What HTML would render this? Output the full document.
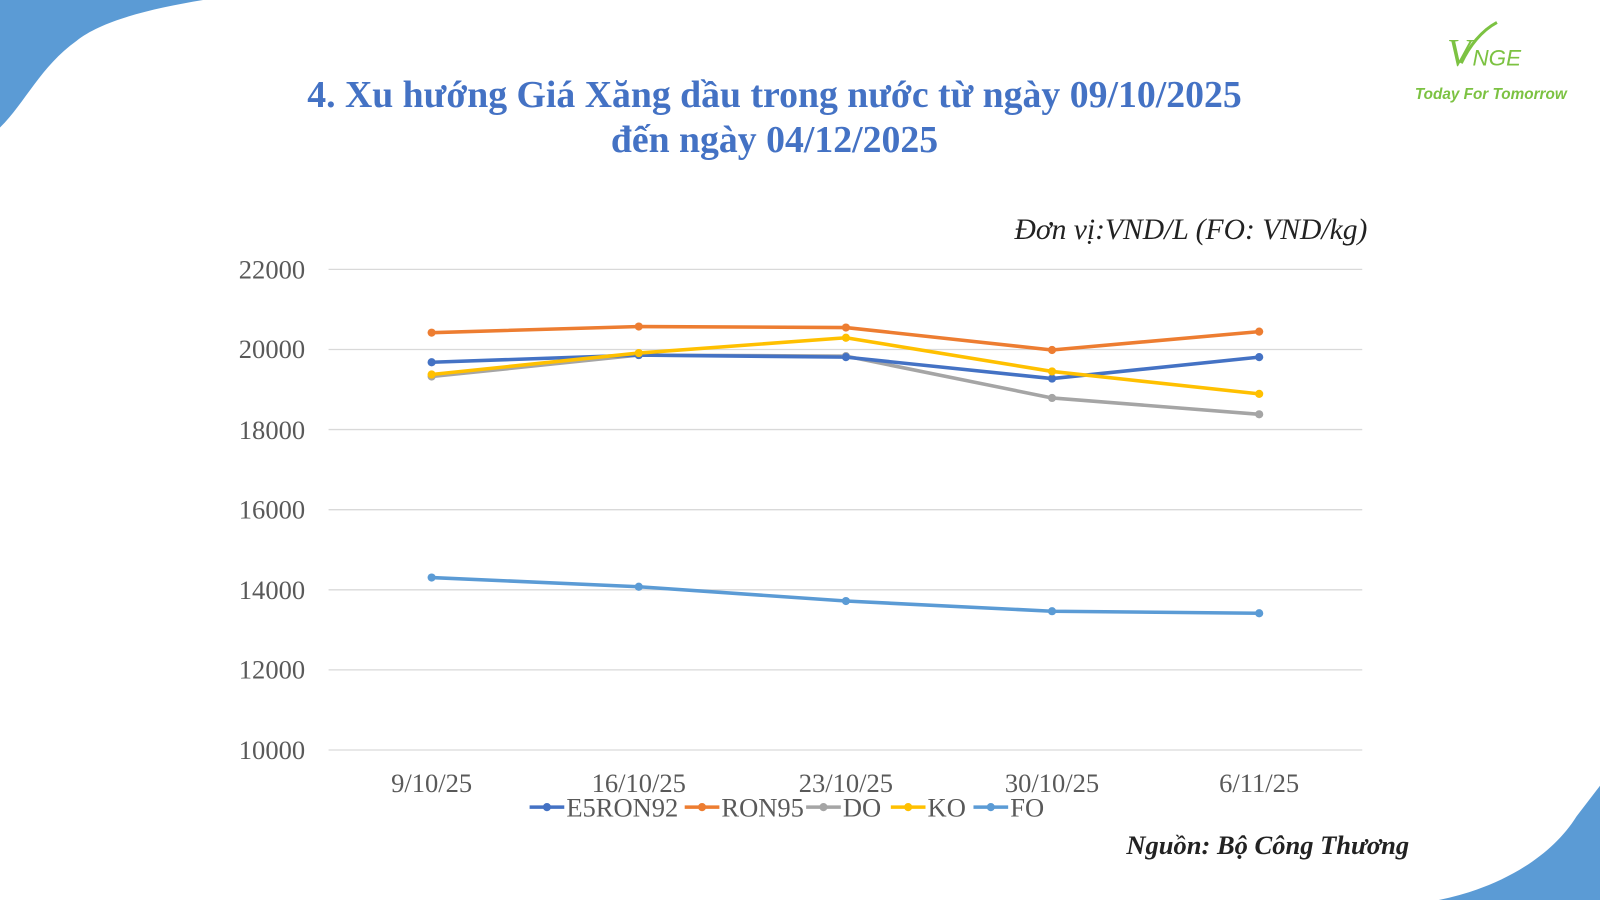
<!DOCTYPE html>
<html><head><meta charset="utf-8"><style>html,body{margin:0;padding:0;background:#fff;width:1600px;height:900px;overflow:hidden}</style></head>
<body>
<svg width="1600" height="900" viewBox="0 0 1568 882" preserveAspectRatio="none" xmlns="http://www.w3.org/2000/svg">
<rect width="1568" height="882" fill="#fff"/>
<path d="M0,0 L199,0 C150,8 100,20 75,40 C40,65 25,100 0,125 Z" fill="#5B9BD5"/>
<path d="M1568,770 L1568,882 L1410,882 C1470,870 1520,840 1545,800 Z" fill="#5B9BD5"/>
<g font-family="'Liberation Serif',serif" font-weight="bold" fill="#4472C4" font-size="37" text-anchor="middle">
<text x="759" y="105">4. Xu hướng Giá Xăng dầu trong nước từ ngày 09/10/2025</text>
<text x="759" y="149">đến ngày 04/12/2025</text>
</g>
<g font-family="'Liberation Sans',sans-serif" font-style="italic" fill="#7CC242">
<text x="1418" y="64" font-size="38" font-family="'Liberation Serif',serif">V</text>
<text x="1443" y="64" font-size="22">NGE</text>
<text x="1461" y="97" font-size="15" font-weight="bold" text-anchor="middle">Today For Tomorrow</text>
</g>
<path d="M1432,62 C1440,45 1452,30 1467,22" stroke="#7CC242" stroke-width="3" fill="none"/>
<text x="1340" y="234" font-family="'Liberation Serif',serif" font-style="italic" font-size="29" fill="#222" text-anchor="end">Đơn vị:VND/L (FO: VND/kg)</text>
<g stroke="#d9d9d9" stroke-width="1.3">
<line x1="322" x2="1335" y1="264" y2="264"/><line x1="322" x2="1335" y1="342.5" y2="342.5"/><line x1="322" x2="1335" y1="421" y2="421"/><line x1="322" x2="1335" y1="499.5" y2="499.5"/><line x1="322" x2="1335" y1="578" y2="578"/><line x1="322" x2="1335" y1="656.5" y2="656.5"/><line x1="322" x2="1335" y1="735" y2="735"/>
</g>
<g font-family="'Liberation Serif',serif" font-size="26" fill="#595959" text-anchor="end">
<text x="299" y="273">22000</text><text x="299" y="351">20000</text><text x="299" y="430">18000</text><text x="299" y="508">16000</text><text x="299" y="587">14000</text><text x="299" y="665">12000</text><text x="299" y="744">10000</text>
</g>
<g font-family="'Liberation Serif',serif" font-size="26" fill="#595959" text-anchor="middle">
<text x="423" y="776">9/10/25</text><text x="626" y="776">16/10/25</text><text x="829" y="776">23/10/25</text><text x="1031" y="776">30/10/25</text><text x="1234" y="776">6/11/25</text>
</g>
<g fill="none" stroke-width="3.5" stroke-linejoin="round">
<polyline stroke="#A5A5A5" points="423,369 626,348 829,349 1031,390 1234,406"/>
<polyline stroke="#4472C4" points="423,355 626,348 829,350 1031,371 1234,350"/>
<polyline stroke="#FFC000" points="423,367 626,346 829,331 1031,364 1234,386"/>
<polyline stroke="#ED7D31" points="423,326 626,320 829,321 1031,343 1234,325"/>
<polyline stroke="#5B9BD5" points="423,566 626,575 829,589 1031,599 1234,601"/>
</g>
<g>
<g fill="#A5A5A5"><circle cx="423" cy="369" r="4"/><circle cx="626" cy="348" r="4"/><circle cx="829" cy="349" r="4"/><circle cx="1031" cy="390" r="4"/><circle cx="1234" cy="406" r="4"/></g>
<g fill="#4472C4"><circle cx="423" cy="355" r="4"/><circle cx="626" cy="348" r="4"/><circle cx="829" cy="350" r="4"/><circle cx="1031" cy="371" r="4"/><circle cx="1234" cy="350" r="4"/></g>
<g fill="#FFC000"><circle cx="423" cy="367" r="4"/><circle cx="626" cy="346" r="4"/><circle cx="829" cy="331" r="4"/><circle cx="1031" cy="364" r="4"/><circle cx="1234" cy="386" r="4"/></g>
<g fill="#ED7D31"><circle cx="423" cy="326" r="4"/><circle cx="626" cy="320" r="4"/><circle cx="829" cy="321" r="4"/><circle cx="1031" cy="343" r="4"/><circle cx="1234" cy="325" r="4"/></g>
<g fill="#5B9BD5"><circle cx="423" cy="566" r="4"/><circle cx="626" cy="575" r="4"/><circle cx="829" cy="589" r="4"/><circle cx="1031" cy="599" r="4"/><circle cx="1234" cy="601" r="4"/></g>
</g>
<g font-family="'Liberation Serif',serif" font-size="26" fill="#595959" stroke-width="3.5">
<line x1="519" x2="553" y1="791" y2="791" stroke="#4472C4"/><circle cx="536" cy="791" r="4" fill="#4472C4"/><text x="555" y="800">E5RON92</text>
<line x1="671" x2="705" y1="791" y2="791" stroke="#ED7D31"/><circle cx="688" cy="791" r="4" fill="#ED7D31"/><text x="707" y="800">RON95</text>
<line x1="790" x2="824" y1="791" y2="791" stroke="#A5A5A5"/><circle cx="807" cy="791" r="4" fill="#A5A5A5"/><text x="826" y="800">DO</text>
<line x1="873" x2="907" y1="791" y2="791" stroke="#FFC000"/><circle cx="890" cy="791" r="4" fill="#FFC000"/><text x="909" y="800">KO</text>
<line x1="954" x2="988" y1="791" y2="791" stroke="#5B9BD5"/><circle cx="971" cy="791" r="4" fill="#5B9BD5"/><text x="990" y="800">FO</text>
</g>
<text x="1381" y="837" font-family="'Liberation Serif',serif" font-style="italic" font-weight="bold" font-size="26" fill="#222" text-anchor="end">Nguồn: Bộ Công Thương</text>
</svg>
</body></html>
